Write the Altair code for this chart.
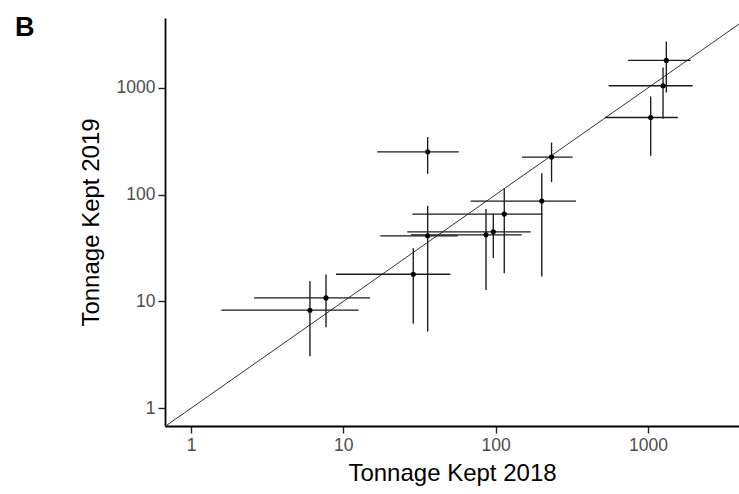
import altair as alt
import pandas as pd

# Estimated tonnage kept in 2018 and 2019, with interval bounds
tonnage_2018 = [6.04, 7.70, 28.8, 35.8, 35.8, 86.5, 96.6, 114, 201, 233, 1043, 1257, 1321]
tonnage_2018_lo = [1.58, 2.59, 8.96, 17.5, 16.7, 27.8, 26.3, 28.4, 68.6, 149, 523, 553, 743]
tonnage_2018_hi = [12.6, 15.0, 50.4, 56.4, 57.3, 148, 170, 203, 337, 321, 1570, 1968, 1910]

tonnage_2019 = [8.29, 10.8, 18.0, 41.2, 252, 42.1, 44.9, 65.8, 87.1, 225, 529, 1049, 1811]
tonnage_2019_lo = [3.07, 5.74, 6.17, 5.22, 157, 12.8, 25.5, 18.4, 17.1, 131, 232, 514, 908]
tonnage_2019_hi = [15.5, 17.9, 31.6, 78.7, 347, 73.3, 66.6, 115, 159, 308, 832, 1556, 2729]

tick_values = [1, 10, 100, 1000]
x_domain = [0.675, 3964]
y_domain = [0.682, 4519]

df = pd.DataFrame({
    "x": tonnage_2018, "x_lo": tonnage_2018_lo, "x_hi": tonnage_2018_hi,
    "y": tonnage_2019, "y_lo": tonnage_2019_lo, "y_hi": tonnage_2019_hi,
})

# 1:1 reference line across the panel
diag = pd.DataFrame({"x": x_domain, "y": x_domain})

x_scale = alt.Scale(type="log", domain=x_domain, nice=False)
y_scale = alt.Scale(type="log", domain=y_domain, nice=False)

x_axis = alt.Axis(values=tick_values, format="d", title="Tonnage Kept 2018",
                  titleY=54, titleBaseline="alphabetic")
y_axis = alt.Axis(values=tick_values, format="d", title="Tonnage Kept 2019",
                  titleX=-67, titleBaseline="alphabetic")

base = alt.Chart(df)

line = alt.Chart(diag).mark_line(color="#333333", strokeWidth=1, clip=True).encode(
    x=alt.X("x:Q", scale=x_scale, axis=x_axis),
    y=alt.Y("y:Q", scale=y_scale, axis=y_axis),
)

h_bars = base.mark_rule(color="#1a1a1a", strokeWidth=1.35).encode(
    x=alt.X("x_lo:Q", scale=x_scale),
    x2="x_hi:Q",
    y=alt.Y("y:Q", scale=y_scale),
)

v_bars = base.mark_rule(color="#1a1a1a", strokeWidth=1.35).encode(
    x=alt.X("x:Q", scale=x_scale),
    y=alt.Y("y_lo:Q", scale=y_scale),
    y2="y_hi:Q",
)

points = base.mark_circle(color="black", opacity=1, size=26).encode(
    x=alt.X("x:Q", scale=x_scale),
    y=alt.Y("y:Q", scale=y_scale),
)

panel_label = alt.Chart(pd.DataFrame({"label": ["B"]})).mark_text(
    align="left", baseline="alphabetic", fontSize=27, fontWeight="bold",
    font="Liberation Sans", color="black",
).encode(x=alt.value(-150), y=alt.value(18), text="label:N")

chart = alt.layer(line, h_bars, v_bars, points, panel_label).properties(
    width=574,
    height=408,
    padding={"left": 165, "top": 18, "right": 0, "bottom": 68},
    autosize=alt.AutoSizeParams(type="none"),
).configure_view(stroke=None).configure_axis(
    grid=False,
    domainColor="black",
    domainWidth=1.8,
    tickColor="#222222",
    tickWidth=1.4,
    tickSize=7,
    labelColor="#4d4d4d",
    labelFont="Liberation Sans",
    labelFontSize=17.5,
    labelPadding=3,
    titleFont="Liberation Sans",
    titleFontSize=24,
    titleFontWeight="normal",
    titleColor="black",
)

chart.save("out.html", embed_options={"renderer": "svg", "actions": False})
